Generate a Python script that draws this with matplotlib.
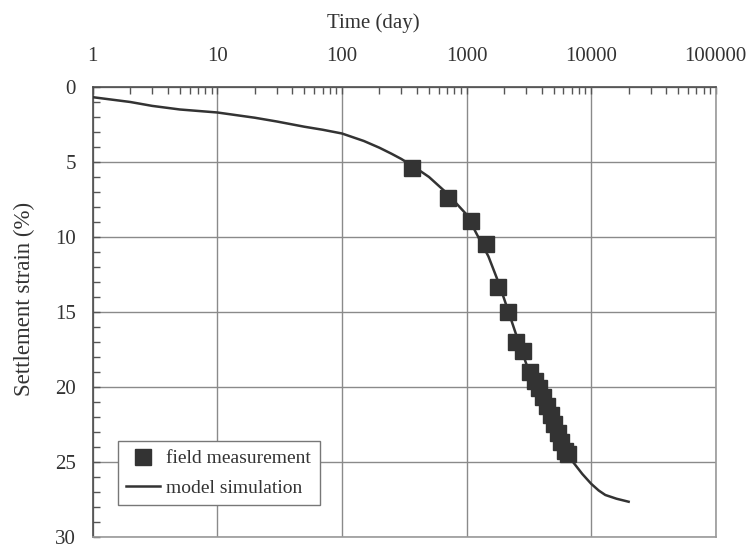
import matplotlib
matplotlib.use("Agg")
import matplotlib.pyplot as plt
from matplotlib.ticker import LogLocator, MultipleLocator, NullFormatter, FixedLocator, FixedFormatter

plt.rcParams['font.family'] = ['Liberation Serif', 'DejaVu Serif']

# 実測値 (field measurement)
meas_t = [363, 715, 1081, 1435, 1779, 2142, 2495, 2858, 3233,
          3548, 3820, 4110, 4430, 4766, 5040, 5420, 5730, 6170, 6490]
meas_s = [5.40, 7.40, 8.95, 10.45, 13.33, 14.97, 17.03, 17.59, 19.02,
          19.6, 20.1, 20.7, 21.3, 21.9, 22.5, 23.1, 23.7, 24.25, 24.5]

# 解析値 (model simulation)
sim_t = [1, 2, 3, 5, 10, 20, 30, 50, 70, 100, 150, 200, 250, 300, 400, 500, 700,
         1000, 1500, 1800, 2000, 2500, 3000, 4000, 5000, 6000, 7000, 8500,
         10000, 11500, 13000, 16000, 20000]
sim_s = [0.68, 1.0, 1.26, 1.5, 1.7, 2.05, 2.3, 2.65, 2.85, 3.1, 3.6, 4.05, 4.45,
         4.8, 5.45, 6.0, 7.1, 8.5, 11.3, 13.0, 14.1, 16.5, 18.4, 21.0, 22.9,
         24.1, 24.9, 25.8, 26.45, 26.9, 27.2, 27.45, 27.65]

x_ticks = [1, 10, 100, 1000, 10000, 100000]
x_labels = ['1', '10', '100', '1000', '10000', '100000']

dark = '#333333'
grid_c = '#8a8a8a'

fig = plt.figure(figsize=(7.5, 5.45), dpi=100)
ax = fig.add_axes([0.1236, 0.0147, 0.8307, 0.8257])

ax.set_xscale('log')
ax.set_xlim(1, 100000)
ax.set_ylim(30, 0)

ax.plot(sim_t, sim_s, color=dark, lw=1.8, label='model simulation', zorder=3)
ax.plot(meas_t, meas_s, 's', color=dark, ms=11.5, mec=dark,
        label='field measurement', zorder=4)

# 軸の設定
ax.xaxis.set_ticks_position('top')
ax.xaxis.set_label_position('top')
ax.xaxis.set_major_locator(FixedLocator(x_ticks))
ax.xaxis.set_major_formatter(FixedFormatter(x_labels))
ax.xaxis.set_minor_locator(LogLocator(base=10, subs=range(2, 10)))
ax.xaxis.set_minor_formatter(NullFormatter())
ax.yaxis.set_major_locator(MultipleLocator(5))
ax.yaxis.set_minor_locator(MultipleLocator(1))

ax.tick_params(which='both', direction='in', color='#555555', labelcolor=dark,
               labelsize=15)
ax.tick_params(which='major', length=5, width=1)
ax.tick_params(which='minor', length=5, width=1)
ax.tick_params(axis='x', pad=15)
ax.tick_params(axis='y', pad=12)

ax.set_xlabel('Time (day)', fontsize=15, color=dark)
ax.xaxis.set_label_coords(0.45, 1.132)
ax.set_ylabel('Settlement strain (%)', fontsize=16.5, color=dark)
ax.yaxis.set_label_coords(-0.092, 0.53)

ax.grid(True, which='major', color=grid_c, lw=1)
ax.set_axisbelow(True)

ax.spines['top'].set_color('#4d4d4d')
ax.spines['left'].set_color('#4d4d4d')
ax.spines['right'].set_color('#999999')
ax.spines['bottom'].set_color('#999999')
for sp in ax.spines.values():
    sp.set_linewidth(1.2)

handles, labels = ax.get_legend_handles_labels()
leg = ax.legend(handles[::-1], labels[::-1], loc='lower left',
                bbox_to_anchor=(0.04, 0.07), borderaxespad=0,
                fontsize=14, frameon=True,
                fancybox=False, edgecolor='#777777', framealpha=1,
                handlelength=1.75, handletextpad=0.3, borderpad=0.45,
                labelspacing=0.6)
leg.get_frame().set_linewidth(1.0)
for t in leg.get_texts():
    t.set_color(dark)

fig.savefig('out.png', dpi=100)
